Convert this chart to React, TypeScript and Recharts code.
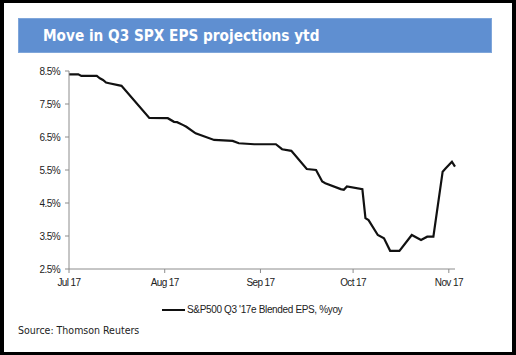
import React from "react";
import { LineChart, Line, XAxis, YAxis } from "recharts";

// days since 1 Jul 2017
const dayOffsets = [
  0, 3, 4, 9, 10, 11, 12, 13, 17, 26, 32, 34, 35, 37, 38, 41, 47, 53, 55, 60, 67, 69, 72,
  77, 80, 82, 83, 88, 89, 90, 95, 96, 97, 100, 102, 104, 107, 111, 114, 116, 118, 121, 122, 124, 125,
];
const epsYoy = [
  8.4, 8.4, 8.35, 8.35, 8.28, 8.23, 8.15, 8.13, 8.05, 7.08, 7.07, 6.96, 6.95, 6.86, 6.81, 6.61, 6.41, 6.38, 6.31, 6.28, 6.28, 6.13, 6.08,
  5.53, 5.5, 5.15, 5.1, 4.92, 4.9, 5.0, 4.92, 4.04, 3.98, 3.53, 3.43, 3.05, 3.05, 3.53, 3.38, 3.48, 3.48, 5.45, 5.55, 5.75, 5.6,
];
const monthTicks = [0, 31, 62, 92, 123];
const monthLabels = ["Jul 17", "Aug 17", "Sep 17", "Oct 17", "Nov 17"];
const pctTicks = [2.5, 3.5, 4.5, 5.5, 6.5, 7.5, 8.5];
const seriesName = "S&P500 Q3 '17e Blended EPS, %yoy";

const data = dayOffsets.map((d, i) => ({ day: d, eps: epsYoy[i] }));

const arial = "'Liberation Sans', Arial, sans-serif";
const axisFont = { fontSize: 10, fill: "#222", fontFamily: arial, letterSpacing: -0.6 };

export default function App() {
  return (
    <div style={{ position: "relative", width: 516, height: 355, background: "#000" }}>
      <style>{"body{margin:0}"}</style>
      <div style={{ position: "absolute", left: 4, top: 3, width: 508, height: 349, background: "#fff" }} />
      <div
        style={{
          position: "absolute",
          left: 18,
          top: 18,
          width: 474,
          height: 35,
          background: "#5f8fd1",
          boxSizing: "border-box",
          border: "1px solid #7fa6da",
          color: "#fff",
          fontFamily: "'DejaVu Sans Condensed', 'DejaVu Sans', sans-serif",
          fontWeight: "bold",
          fontSize: 15.2,
          lineHeight: "34px",
          paddingLeft: 24,
        }}
      >
        Move in Q3 SPX EPS projections ytd
      </div>
      <div style={{ position: "absolute", left: 0, top: 0 }}>
        <LineChart width={516} height={355} data={data} margin={{ top: 71, right: 61, bottom: 56, left: 29 }}>
          <XAxis
            dataKey="day"
            type="number"
            domain={[0, 124.5]}
            ticks={monthTicks}
            tickFormatter={(v) => monthLabels[monthTicks.indexOf(v)] ?? ""}
            height={30}
            tickSize={4}
            tickMargin={6}
            stroke="#8c8c8c"
            tick={axisFont}
          />
          <YAxis
            type="number"
            domain={[2.5, 8.5]}
            ticks={pctTicks}
            tickFormatter={(v) => `${v.toFixed(1)}%`}
            width={40}
            tickSize={4}
            tickMargin={5}
            stroke="#8c8c8c"
            tick={axisFont}
          />
          <Line
            type="linear"
            dataKey="eps"
            stroke="#111"
            strokeWidth={2.2}
            dot={false}
            isAnimationActive={false}
          />
        </LineChart>
      </div>
      <div
        style={{
          position: "absolute",
          left: 162,
          top: 304,
          display: "flex",
          alignItems: "center",
          fontSize: 10,
          letterSpacing: -0.35,
          fontFamily: arial,
          color: "#222",
        }}
      >
        <span style={{ display: "inline-block", width: 23, height: 2, background: "#111", marginRight: 2 }} />
        {seriesName}
      </div>
      <div
        style={{
          position: "absolute",
          left: 18,
          top: 324,
          fontSize: 10.5,
          fontFamily: "'DejaVu Sans Condensed', 'DejaVu Sans', sans-serif",
          color: "#222",
        }}
      >
        Source: Thomson Reuters
      </div>
    </div>
  );
}
